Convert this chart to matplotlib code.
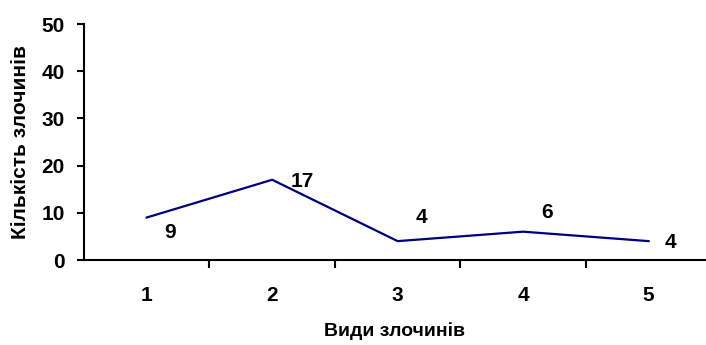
import numpy as np
import matplotlib.pyplot as plt

categories = [1, 2, 3, 4, 5]
counts = [9, 17, 4, 6, 4]
labels = ["9", "17", "4", "6", "4"]

# label offsets in points (Excel put them a bit oddly)
offsets = [(17, -11), (22, -1), (17, 17), (17, 14), (16, -1)]

plt.rcParams['font.family'] = ['Liberation Sans', 'DejaVu Sans']
plt.rcParams['font.weight'] = 'bold'

fig = plt.figure(figsize=(7.06, 3.45), dpi=100)
ax = fig.add_axes([84 / 706, 1 - 260 / 345, (705 - 84) / 706, (260 - 24) / 345])

ax.plot(categories, counts, color='#000080', lw=1.6)

for x, y, t, off in zip(categories, counts, labels, offsets):
    ax.annotate(t, (x, y), xytext=off, textcoords='offset points',
                ha='center', va='center', fontsize=15, fontweight='bold')

ax.set_xlim(0.5, 5.45)
ax.set_ylim(0, 50)
ax.set_yticks(np.arange(0, 51, 10))
ax.set_xticks(categories)
ax.set_xticks([1.5, 2.5, 3.5, 4.5], minor=True)
ax.set_xticklabels([str(c) for c in categories], fontsize=15, fontweight='bold')
ax.tick_params(axis='x', which='major', length=0, pad=19)
ax.tick_params(axis='x', which='minor', length=6, width=1.5, direction='out')
ax.tick_params(axis='y', length=5, width=1.5, labelsize=15, pad=9)
for lab in ax.get_yticklabels():
    lab.set_fontweight('bold')

ax.spines['top'].set_visible(False)
ax.spines['right'].set_visible(False)
ax.spines['left'].set_linewidth(1.5)
ax.spines['bottom'].set_linewidth(1.5)

ax.set_xlabel("Види злочинів", fontsize=14, fontweight='bold', labelpad=12)
ax.set_ylabel("Кількість злочинів", fontsize=15, fontweight='bold', labelpad=8)

fig.savefig("out.png", dpi=100)
